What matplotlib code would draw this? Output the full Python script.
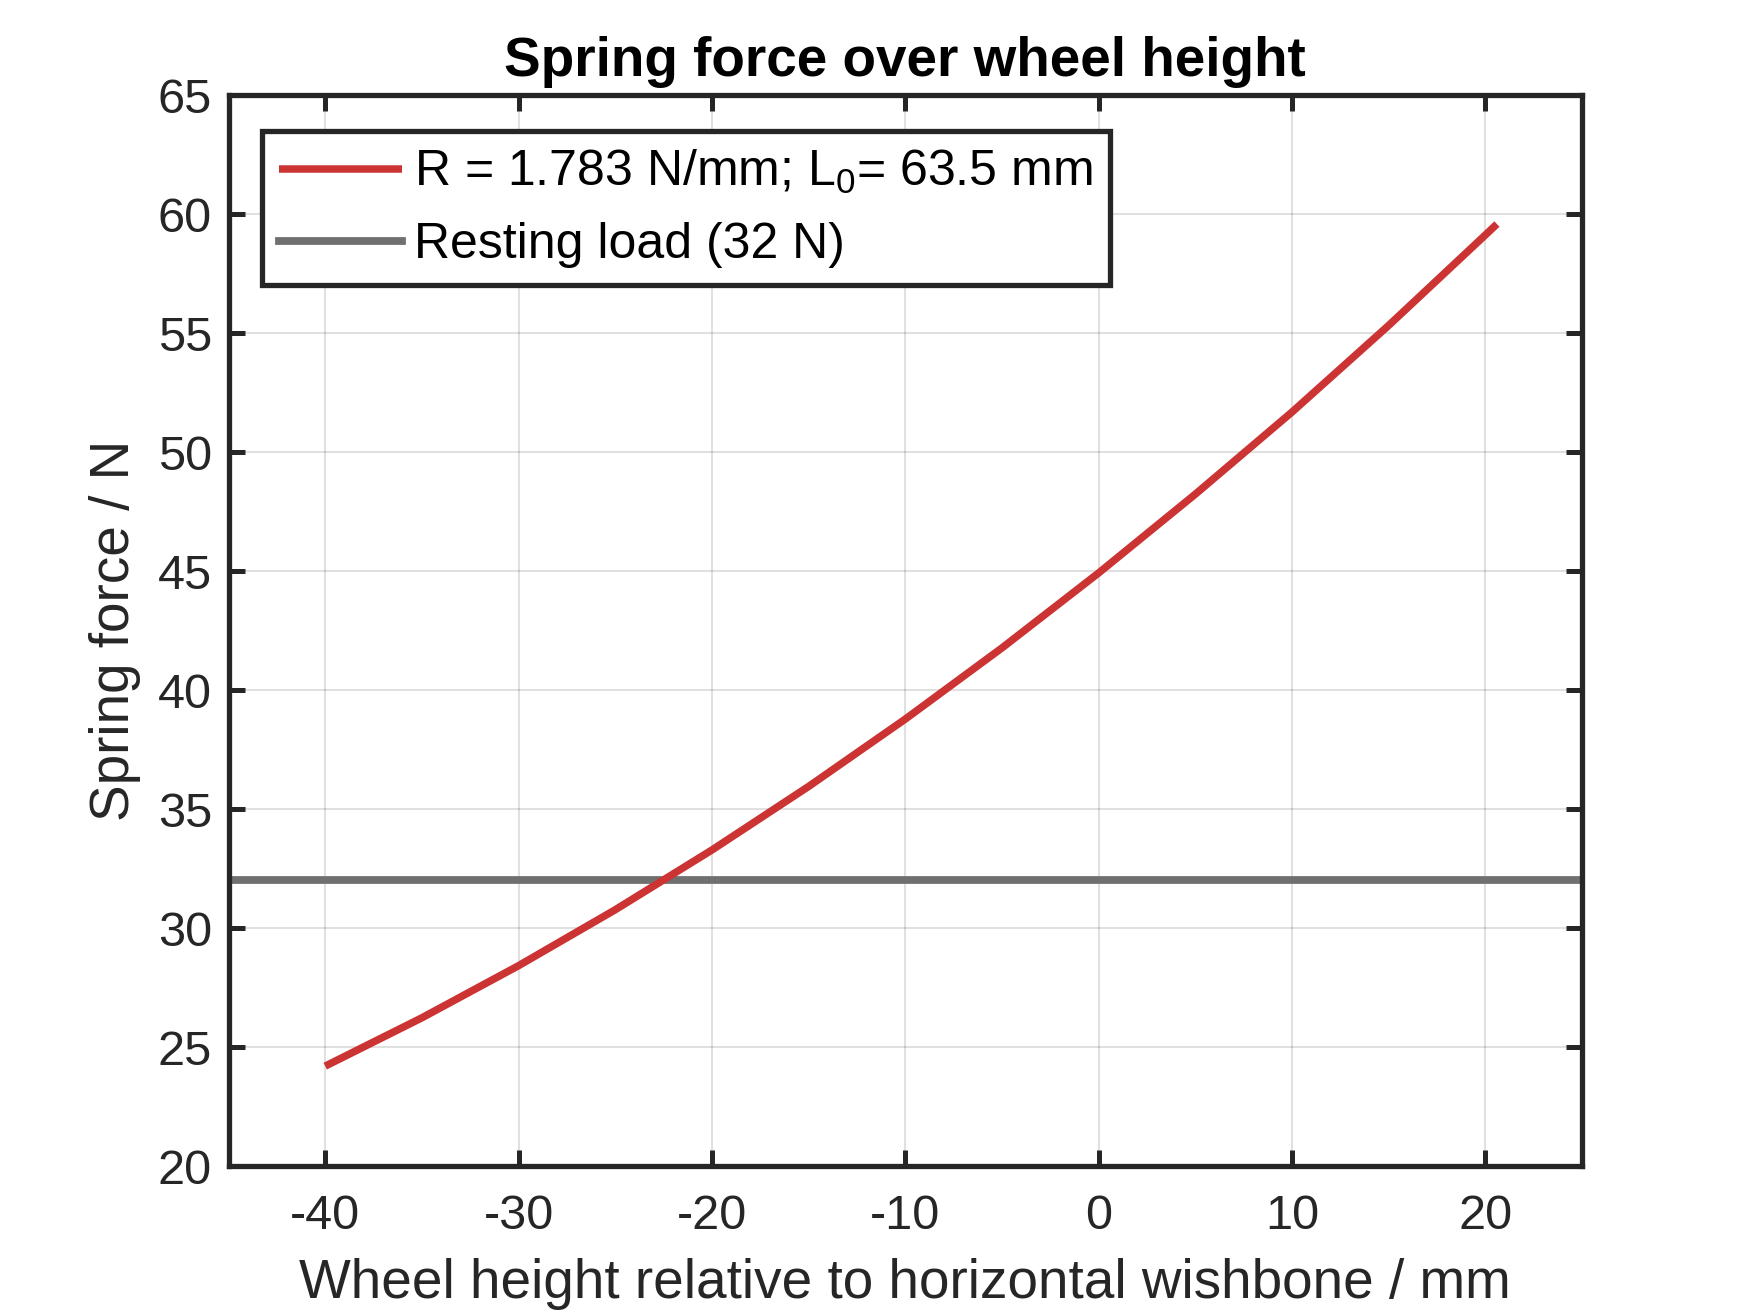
import matplotlib
matplotlib.use("Agg")
import matplotlib.pyplot as plt

plt.rcParams['font.family'] = ['Liberation Sans', 'DejaVu Sans']
plt.rcParams['mathtext.fontset'] = 'custom'
plt.rcParams['mathtext.rm'] = 'Liberation Sans'
plt.rcParams['mathtext.it'] = 'Liberation Sans'
plt.rcParams['axes.unicode_minus'] = False

# Data
wheel_height = [-40, -35, -30, -25, -20, -15, -10, -5, 0, 5, 10, 15, 20, 20.6]
spring_force = [24.2, 26.23, 28.42, 30.77, 33.28, 35.95, 38.78, 41.77, 44.92,
                48.23, 51.68, 55.32, 59.12, 59.58]
resting_load = 32
x_ticks = [-40, -30, -20, -10, 0, 10, 20]
y_ticks = [20, 25, 30, 35, 40, 45, 50, 55, 60, 65]

title = "Spring force over wheel height"
xlabel = "Wheel height relative to horizontal wishbone / mm"
ylabel = "Spring force / N"
label_spring = "R = 1.783 N/mm; L$_0$= 63.5 mm"
label_rest = "Resting load (32 N)"

dark = '#262626'
red = '#CC3333'
grey = '#707070'

fig = plt.figure(figsize=(17.5, 13.13), dpi=100)
ax = fig.add_axes([0.1306, 0.1119, 0.7734, 0.8157])

ax.plot(wheel_height, spring_force, color=red, lw=5.4, label=label_spring,
        solid_capstyle='butt', solid_joinstyle='round', zorder=3)
ax.axhline(resting_load, color=grey, lw=5.6, label=label_rest, zorder=2)

ax.set_xlim(-45, 25)
ax.set_ylim(20, 65)
ax.set_xticks(x_ticks)
ax.set_yticks(y_ticks)
ax.grid(True, color='black', alpha=0.12, lw=1.5)
ax.set_axisbelow(True)

ax.tick_params(direction='in', length=11.5, width=3.6, color=dark,
               labelsize=35, labelcolor=dark, top=True, right=True)
ax.tick_params(axis='x', pad=20)
ax.tick_params(axis='y', pad=12)
for s in ax.spines.values():
    s.set_linewidth(3.8)
    s.set_color(dark)

ax.set_title(title, fontsize=39.5, fontweight='bold', color='black', pad=14)
ax.set_xlabel(xlabel, fontsize=39.5, color=dark, labelpad=14)
ax.set_ylabel(ylabel, fontsize=39.5, color=dark, labelpad=12)

leg = ax.legend(loc='upper left', bbox_to_anchor=(0.0248, 0.9664),
                borderaxespad=0, fontsize=36, handlelength=2.45,
                handletextpad=0.25, labelspacing=0.52, borderpad=0.34,
                fancybox=False, framealpha=1, edgecolor=dark)
leg.get_frame().set_linewidth(3.8)
for t in leg.get_texts():
    t.set_color('black')

fig.savefig("out.png", dpi=100)
